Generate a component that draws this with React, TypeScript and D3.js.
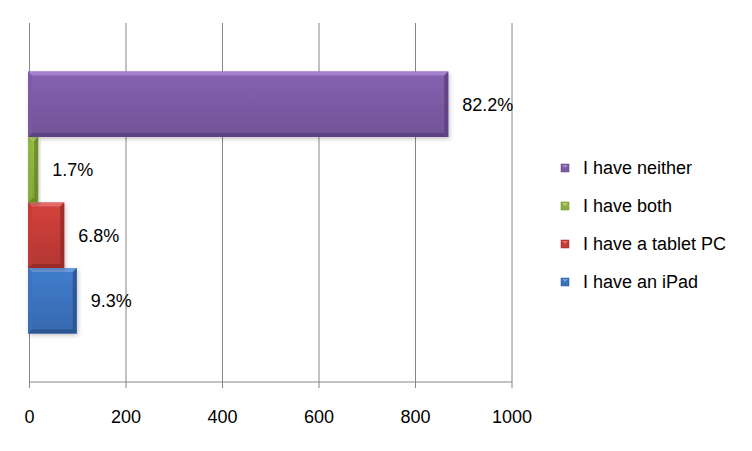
import { useEffect, useRef } from "react";
import * as d3 from "d3";

const width = 752;
const height = 451;

// one category, four series (bottom to top as drawn)
const seriesNames = ["I have an iPad", "I have a tablet PC", "I have both", "I have neither"];
const seriesValues = [98, 72, 18, 868];
const pctLabels = ["9.3%", "6.8%", "1.7%", "82.2%"];
const xTicks = [0, 200, 400, 600, 800, 1000];

const palette: Record<string, { body: string; light: string; dark: string }> = {
    "I have an iPad": { body: "#3b72bd", light: "#6f9ee0", dark: "#2a5490" },
    "I have a tablet PC": { body: "#c33b37", light: "#e2706b", dark: "#962a27" },
    "I have both": { body: "#8cb03f", light: "#b5d36c", dark: "#6a872c" },
    "I have neither": { body: "#7b5aa3", light: "#a685cf", dark: "#5c4180" },
};

export default function App() {
    const ref = useRef<SVGSVGElement>(null);

    useEffect(() => {
        const svg = d3.select(ref.current);
        svg.selectAll("*").remove();
        const font = "'Liberation Sans', Arial, sans-serif";

        const x = d3.scaleLinear().domain([0, 1000]).range([29.5, 512]);
        const top = 23, bottom = 382;

        // single category band, series inside it
        const yCat = d3.scaleBand<string>().domain(["all"]).range([top, bottom]).paddingInner(0).paddingOuter(0.185);
        const order = [...seriesNames].reverse(); // neither at top
        const ySer = d3.scaleBand<string>().domain(order).range([0, yCat.bandwidth()]);

        const defs = svg.append("defs");
        seriesNames.forEach((s, i) => {
            const c = palette[s];
            const g = defs.append("linearGradient").attr("id", "g" + i)
                .attr("x1", 0).attr("y1", 0).attr("x2", 0).attr("y2", 1);
            g.append("stop").attr("offset", "0%").attr("stop-color", d3.color(c.body)!.brighter(0.25).formatHex());
            g.append("stop").attr("offset", "100%").attr("stop-color", d3.color(c.body)!.darker(0.25).formatHex());
        });
        const f = defs.append("filter").attr("id", "sh").attr("x", "-10%").attr("y", "-10%").attr("width", "130%").attr("height", "140%");
        f.append("feDropShadow").attr("dx", 1.5).attr("dy", 2).attr("stdDeviation", 2).attr("flood-color", "#000").attr("flood-opacity", 0.22);

        // gridlines
        svg.append("g").selectAll("line").data(xTicks).enter().append("line")
            .attr("x1", d => x(d)).attr("x2", d => x(d))
            .attr("y1", top).attr("y2", bottom + 6)
            .attr("stroke", "#868686").attr("stroke-width", 1);

        // axis line
        svg.append("line").attr("x1", x(0)).attr("x2", x(1000)).attr("y1", bottom).attr("y2", bottom)
            .attr("stroke", "#868686").attr("stroke-width", 1);

        // tick labels
        svg.append("g").selectAll("text").data(xTicks).enter().append("text")
            .attr("x", d => x(d)).attr("y", 417).attr("dy", "0.35em")
            .attr("text-anchor", "middle").attr("font-family", font).attr("font-size", 18).attr("fill", "#000")
            .text(d => String(d));

        // bars
        const bars = svg.append("g");
        seriesNames.forEach((s, i) => {
            const c = palette[s];
            const x0 = x(0) - 1.5;
            const x1 = x(seriesValues[i]);
            const y0 = yCat("all")! + ySer(s)!;
            const h = ySer.bandwidth();
            const b = Math.min(4, (x1 - x0) / 2);
            const grp = bars.append("g");
            grp.append("rect").attr("x", x0).attr("y", y0).attr("width", x1 - x0).attr("height", h)
                .attr("fill", `url(#g${i})`).attr("filter", "url(#sh)");
            // bevel: top light, right and bottom dark, left light
            grp.append("polygon").attr("points", [[x0, y0], [x1, y0], [x1 - b, y0 + b], [x0 + b, y0 + b]].join(" "))
                .attr("fill", c.light).attr("opacity", 0.9);
            grp.append("polygon").attr("points", [[x1, y0], [x1, y0 + h], [x1 - b, y0 + h - b], [x1 - b, y0 + b]].join(" "))
                .attr("fill", c.dark).attr("opacity", 0.85);
            grp.append("polygon").attr("points", [[x0, y0 + h], [x1, y0 + h], [x1 - b, y0 + h - b], [x0 + b, y0 + h - b]].join(" "))
                .attr("fill", c.dark).attr("opacity", 0.9);
            grp.append("polygon").attr("points", [[x0, y0], [x0 + b, y0 + b], [x0 + b, y0 + h - b], [x0, y0 + h]].join(" "))
                .attr("fill", c.body).attr("opacity", 0.6);

            svg.append("text").attr("x", x1 + 14).attr("y", y0 + h / 2).attr("dy", "0.35em")
                .attr("font-family", font).attr("font-size", 18).attr("fill", "#000")
                .text(pctLabels[i]);
        });

        // legend (neither first)
        const legend = svg.append("g");
        const legY = d3.scalePoint<string>().domain(order).range([168, 282]);
        order.forEach(s => {
            const c = palette[s];
            const yy = legY(s)!;
            legend.append("rect").attr("x", 561).attr("y", yy - 4).attr("width", 8).attr("height", 8)
                .attr("fill", c.body).attr("stroke", c.dark).attr("stroke-width", 0.5);
            legend.append("polygon").attr("points", [[562, yy - 3], [568, yy - 3], [565, yy]].join(" "))
                .attr("fill", c.light);
            legend.append("text").attr("x", 583).attr("y", yy).attr("dy", "0.35em")
                .attr("font-family", font).attr("font-size", 18).attr("fill", "#000")
                .text(s);
        });
    }, []);

    return (
        <div style={{ position: "absolute", left: 0, top: 0 }}>
            <svg ref={ref} width={width} height={height} style={{ display: "block", background: "#fff" }} />
        </div>
    );
}
